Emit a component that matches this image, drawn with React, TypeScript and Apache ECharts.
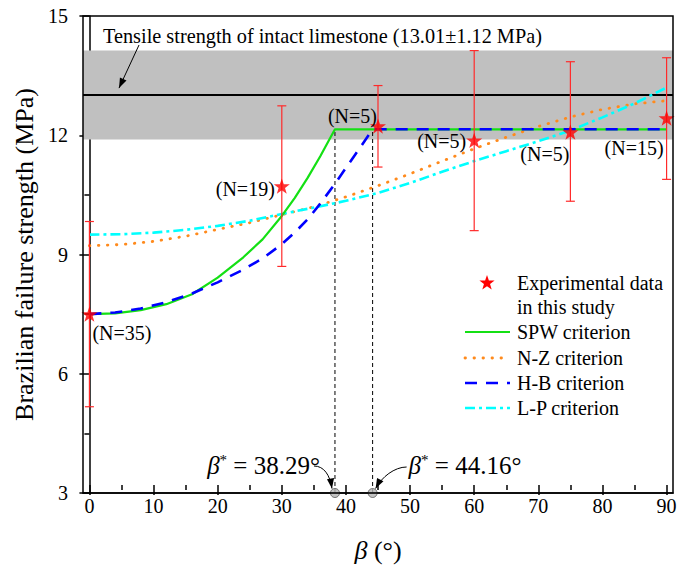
import React, { useEffect, useRef } from "react";
import * as echarts from "echarts";

// ---------- data ----------
const expBeta = [0, 30, 45, 60, 75, 90];
const expMean = [7.5, 10.72, 12.23, 11.87, 12.08, 12.43];
const expLow = [5.17, 8.7, 11.2, 9.6, 10.34, 10.89];
const expHigh = [9.83, 12.74, 13.25, 14.13, 13.85, 13.95];
const expN = ["(N=35)", "(N=19)", "(N=5)", "(N=5)", "(N=5)", "(N=15)"];

const spwBeta = [0, 4, 8, 12, 16, 20, 24, 27, 30, 32, 34, 36, 37.5, 38.29, 90];
const spwVal = [7.5, 7.52, 7.6, 7.75, 8.0, 8.42, 8.93, 9.38, 9.97, 10.42, 10.92, 11.47, 11.92, 12.15, 12.15];

const hbBeta = [0, 4, 8, 12, 16, 20, 24, 27, 30, 32, 34, 36, 38.29, 40, 42, 44.16, 90];
const hbVal = [7.5, 7.54, 7.64, 7.8, 8.02, 8.3, 8.62, 8.9, 9.26, 9.55, 9.88, 10.28, 10.78, 11.18, 11.64, 12.15, 12.15];

const nzBeta = [0, 5, 10, 15, 20, 25, 30, 35, 40, 45, 50, 55, 60, 65, 70, 75, 80, 85, 90];
const nzVal = [9.22, 9.25, 9.33, 9.46, 9.63, 9.8, 10.0, 10.2, 10.45, 10.73, 11.03, 11.35, 11.66, 11.95, 12.22, 12.46, 12.65, 12.79, 12.87];

const lpBeta = [0, 5, 10, 15, 20, 25, 30, 35, 40, 45, 50, 55, 60, 65, 70, 75, 80, 85, 90];
const lpVal = [9.5, 9.51, 9.55, 9.62, 9.72, 9.85, 10.02, 10.18, 10.35, 10.55, 10.8, 11.08, 11.35, 11.6, 11.85, 12.12, 12.45, 12.8, 13.2];

const tensileMean = 13.01;
const tensileSd = 1.12;
const criticalBeta = [38.29, 44.16];
const plateau = 12.15;

const xMin = -1;
const xMax = 91;
const xTickMin = 0;
const xTickMax = 90;
const xTickStep = 10;
const yMin = 3;
const yMax = 15;
const yStep = 3;

const legendNames = ["Experimental data", "in this study", "SPW criterion", "N-Z criterion", "H-B criterion", "L-P criterion"];

// ---------- styling ----------
const FONT = "Liberation Serif, serif";
const GREEN = "#14e014";
const ORANGE = "#ff8a1c";
const BLUE = "#0000ff";
const CYAN = "#00ffff";
const RED = "#ff0000";

const W = 695;
const H = 568;
const G = { left: 83, right: 22, top: 16, bottom: 75 };

const nLabelPlace = [
  { dx: 3, dy: 19, align: "left" },
  { dx: -7, dy: 3, align: "right" },
  { dx: -1, dy: -10, align: "right" },
  { dx: -8, dy: 1, align: "right" },
  { dx: -1, dy: 22, align: "right" },
  { dx: -3, dy: 30, align: "right" },
];

function starPts(cx: number, cy: number, R: number, r: number) {
  const pts: number[][] = [];
  for (let i = 0; i < 10; i++) {
    const a = -Math.PI / 2 + (i * Math.PI) / 5;
    const rad = i % 2 === 0 ? R : r;
    pts.push([cx + rad * Math.cos(a), cy + rad * Math.sin(a)]);
  }
  return pts;
}
const starPath =
  "path://M" + starPts(50, 50, 50, 20).map((p) => p[0].toFixed(2) + "," + p[1].toFixed(2)).join("L") + "Z";

function arrowHead(tip: number[], from: number[], L = 10, w = 3.6) {
  const dx = tip[0] - from[0];
  const dy = tip[1] - from[1];
  const len = Math.hypot(dx, dy) || 1;
  const ux = dx / len;
  const uy = dy / len;
  const bx = tip[0] - L * ux;
  const by = tip[1] - L * uy;
  return [tip, [bx - w * uy, by + w * ux], [bx + w * uy, by - w * ux]];
}

const zip = (xs: number[], ys: number[]) => xs.map((x, i) => [x, ys[i]]);

export default function App() {
  const ref = useRef<HTMLDivElement>(null);

  useEffect(() => {
    if (!ref.current) return;
    const chart = echarts.init(ref.current, null, { renderer: "svg" });

    const unit = (W - G.left - G.right) / (xMax - xMin);
    const grid1 = {
      left: G.left + (xTickMin - xMin) * unit,
      right: G.right + (xMax - xTickMax) * unit,
      top: G.top,
      bottom: G.bottom,
    };

    const axisLabelStyle = { color: "#000", fontSize: 20, fontFamily: FONT };
    const tickLine = { color: "#000", width: 1.5 };

    const option: any = {
      animation: false,
      backgroundColor: "#fff",
      textStyle: { fontFamily: FONT },
      grid: [
        { ...G, containLabel: false },
        { ...grid1, containLabel: false },
      ],
      xAxis: [
        {
          gridIndex: 0,
          type: "value",
          min: xMin,
          max: xMax,
          position: "bottom",
          axisLine: { show: true, lineStyle: tickLine },
          axisTick: { show: false },
          axisLabel: { show: false },
          splitLine: { show: false },
        },
        {
          gridIndex: 1,
          type: "value",
          min: xTickMin,
          max: xTickMax,
          interval: xTickStep,
          position: "bottom",
          name: "{i|β} (°)",
          nameLocation: "middle",
          nameGap: 52,
          nameTextStyle: {
            color: "#000",
            fontSize: 26,
            fontFamily: FONT,
            rich: {
              i: { fontStyle: "italic", fontSize: 26, fontFamily: FONT, color: "#000" },
            },
          },
          axisLine: { show: false },
          axisTick: { show: true, length: 10, lineStyle: tickLine },
          minorTick: { show: true, splitNumber: 2, length: 5, lineStyle: tickLine },
          axisLabel: { ...axisLabelStyle, margin: 11 },
          splitLine: { show: false },
          minorSplitLine: { show: false },
        },
      ],
      yAxis: [
        {
          gridIndex: 0,
          type: "value",
          min: yMin,
          max: yMax,
          interval: yStep,
          name: "Brazilian failure strength (MPa)",
          nameLocation: "middle",
          nameGap: 38,
          nameTextStyle: { color: "#000", fontSize: 26, fontFamily: FONT },
          axisLine: { show: true, lineStyle: tickLine },
          axisTick: { show: true, length: 10, lineStyle: tickLine },
          minorTick: { show: true, splitNumber: 2, length: 5, lineStyle: tickLine },
          axisLabel: { ...axisLabelStyle, margin: 15 },
          splitLine: { show: false },
          minorSplitLine: { show: false },
        },
        {
          gridIndex: 1,
          type: "value",
          min: yMin,
          max: yMax,
          show: false,
        },
      ],
      series: [
        {
          name: "intact",
          type: "line",
          z: 1,
          data: [
            [xMin, tensileMean],
            [xMax, tensileMean],
          ],
          showSymbol: false,
          symbol: "none",
          lineStyle: { color: "#000", width: 2 },
          markArea: {
            silent: true,
            itemStyle: { color: "#c0c0c0" },
            data: [[{ yAxis: tensileMean - tensileSd }, { yAxis: tensileMean + tensileSd }]],
          },
        },
        ...criticalBeta.map((b) => ({
          type: "line",
          z: 2,
          data: [
            [b, yMin],
            [b, plateau],
          ],
          symbol: "none",
          lineStyle: { color: "#000", width: 1, type: [4, 3] },
        })),
        {
          name: "N-Z criterion",
          type: "line",
          z: 3,
          data: zip(nzBeta, nzVal),
          symbol: "none",
          lineStyle: { color: ORANGE, width: 2.8, type: [0.5, 8.5], cap: "round" },
        },
        {
          name: "L-P criterion",
          type: "line",
          z: 3,
          data: zip(lpBeta, lpVal),
          symbol: "none",
          lineStyle: { color: CYAN, width: 2.6, type: [10, 4, 3, 4] },
        },
        {
          name: "SPW criterion",
          type: "line",
          z: 4,
          data: zip(spwBeta, spwVal),
          symbol: "none",
          lineStyle: { color: GREEN, width: 2.2 },
        },
        {
          name: "H-B criterion",
          type: "line",
          z: 5,
          data: zip(hbBeta, hbVal),
          symbol: "none",
          lineStyle: { color: BLUE, width: 2.6, type: [12, 9] },
        },
        {
          name: "errors",
          type: "custom",
          z: 6,
          data: expBeta.map((b, i) => [b, expLow[i], expHigh[i]]),
          encode: { x: 0, y: [1, 2] },
          renderItem: (params: any, api: any) => {
            const x = api.value(0);
            const lo = api.coord([x, api.value(1)]);
            const hi = api.coord([x, api.value(2)]);
            const w = 4.5;
            const st = { stroke: "#ff2a2a", lineWidth: 1.2 };
            return {
              type: "group",
              children: [
                { type: "line", shape: { x1: lo[0], y1: lo[1], x2: hi[0], y2: hi[1] }, style: st },
                { type: "line", shape: { x1: lo[0] - w, y1: lo[1], x2: lo[0] + w, y2: lo[1] }, style: st },
                { type: "line", shape: { x1: hi[0] - w, y1: hi[1], x2: hi[0] + w, y2: hi[1] }, style: st },
              ],
            };
          },
        },
        {
          name: "Experimental data",
          type: "scatter",
          z: 7,
          data: zip(expBeta, expMean),
          symbol: starPath,
          symbolSize: 16,
          symbolKeepAspect: true,
          itemStyle: { color: RED },
          clip: false,
        },
        {
          name: "critical",
          type: "scatter",
          z: 20,
          data: criticalBeta.map((b) => [b, yMin]),
          symbol: "circle",
          symbolSize: 9,
          itemStyle: { color: "#b4b4b4", borderColor: "#555", borderWidth: 1 },
          clip: false,
        },
      ],
    };

    chart.setOption(option);

    const px = (x: number, y: number) => chart.convertToPixel({ gridIndex: 0 }, [x, y]) as number[];
    const tl = px(xMin, yMax);
    const br = px(xMax, yMin);
    const g: any[] = [];

    // frame
    g.push({
      type: "rect",
      z: 100,
      shape: { x: tl[0], y: tl[1], width: br[0] - tl[0], height: br[1] - tl[1] },
      style: { fill: "none", stroke: "#000", lineWidth: 1.5 },
      silent: true,
    });

    // N labels
    expBeta.forEach((b, i) => {
      const p = px(b, expMean[i]);
      const pl = nLabelPlace[i];
      g.push({
        type: "text",
        z: 50,
        x: p[0] + pl.dx,
        y: p[1] + pl.dy,
        style: {
          text: expN[i],
          fill: "#000",
          fontSize: 20,
          fontFamily: FONT,
          align: pl.align,
          verticalAlign: "middle",
        },
      });
    });

    // tensile strength annotation
    const lineY = px(0, tensileMean)[1];
    g.push({
      type: "text",
      z: 50,
      x: tl[0] + 20,
      y: tl[1] + 20,
      style: {
        text: `Tensile strength of intact limestone (${tensileMean.toFixed(2)}±${tensileSd.toFixed(2)} MPa)`,
        fill: "#000",
        fontSize: 20.3,
        fontFamily: FONT,
        align: "left",
        verticalAlign: "middle",
      },
    });
    const aStart = [tl[0] + 56, tl[1] + 29];
    const aTip = [tl[0] + 36, lineY - 7];
    g.push({
      type: "line",
      z: 50,
      shape: { x1: aStart[0], y1: aStart[1], x2: aTip[0], y2: aTip[1] },
      style: { stroke: "#000", lineWidth: 1 },
    });
    g.push({ type: "polygon", z: 50, shape: { points: arrowHead(aTip, aStart) }, style: { fill: "#000" } });

    // critical angle annotations
    const c1 = px(criticalBeta[0], yMin);
    const c2 = px(criticalBeta[1], yMin);
    const rich = {
      b: { fontStyle: "italic", fontSize: 25, fontFamily: FONT, color: "#000" },
      s: { fontSize: 15, fontFamily: FONT, color: "#000", verticalAlign: "top" },
      t: { fontSize: 25, fontFamily: FONT, color: "#000" },
    };
    g.push({
      type: "text",
      z: 50,
      x: c1[0] - 15,
      y: c1[1] - 28,
      style: {
        text: `{b|β}{s|*}{t| = ${criticalBeta[0].toFixed(2)}°}`,
        rich,
        align: "right",
        verticalAlign: "middle",
      },
    });
    g.push({
      type: "text",
      z: 50,
      x: c2[0] + 36,
      y: c2[1] - 28,
      style: {
        text: `{b|β}{s|*}{t| = ${criticalBeta[1].toFixed(2)}°}`,
        rich,
        align: "left",
        verticalAlign: "middle",
      },
    });
    const curves = [
      {
        s: [c1[0] - 21, c1[1] - 27],
        c1: [c1[0] - 11, c1[1] - 27],
        c2: [c1[0] - 5, c1[1] - 18],
        t: [c1[0] - 3, c1[1] - 4.5],
      },
      {
        s: [c2[0] + 34, c2[1] - 26],
        c1: [c2[0] + 22, c2[1] - 26],
        c2: [c2[0] + 9, c2[1] - 16],
        t: [c2[0] + 3, c2[1] - 4.5],
      },
    ];
    curves.forEach((c) => {
      g.push({
        type: "bezierCurve",
        z: 50,
        shape: { x1: c.s[0], y1: c.s[1], cpx1: c.c1[0], cpy1: c.c1[1], cpx2: c.c2[0], cpy2: c.c2[1], x2: c.t[0], y2: c.t[1] },
        style: { stroke: "#000", lineWidth: 1, fill: "none" },
      });
      g.push({ type: "polygon", z: 51, shape: { points: arrowHead(c.t, c.c2, 10, 3.6) }, style: { fill: "#000" } });
    });

    // legend
    const lgX0 = 465;
    const lgX1 = 510;
    const lgText = 517;
    const rows = [283, 307, 332, 358, 383, 408];
    g.push({
      type: "polygon",
      z: 50,
      shape: { points: starPts((lgX0 + lgX1) / 2 - 0.5, rows[0], 8, 3.2) },
      style: { fill: RED },
    });
    legendNames.forEach((name, i) => {
      g.push({
        type: "text",
        z: 50,
        x: lgText,
        y: rows[i],
        style: { text: name, fill: "#000", fontSize: 20, fontFamily: FONT, align: "left", verticalAlign: "middle" },
      });
    });
    const lineStyles = [
      { stroke: GREEN, lineWidth: 2.2 },
      { stroke: ORANGE, lineWidth: 2.8, lineDash: [0.5, 8.5], lineCap: "round" },
      { stroke: BLUE, lineWidth: 2.6, lineDash: [12, 9] },
      { stroke: CYAN, lineWidth: 2.6, lineDash: [10, 4, 3, 4] },
    ];
    lineStyles.forEach((st, i) => {
      g.push({
        type: "line",
        z: 50,
        shape: { x1: lgX0, y1: rows[i + 2], x2: lgX1, y2: rows[i + 2] },
        style: st,
      });
    });

    chart.setOption({ graphic: g });

    return () => chart.dispose();
  }, []);

  return (
    <div
      ref={ref}
      style={{ position: "fixed", left: 0, top: 0, width: W, height: H, background: "#fff" }}
    />
  );
}
